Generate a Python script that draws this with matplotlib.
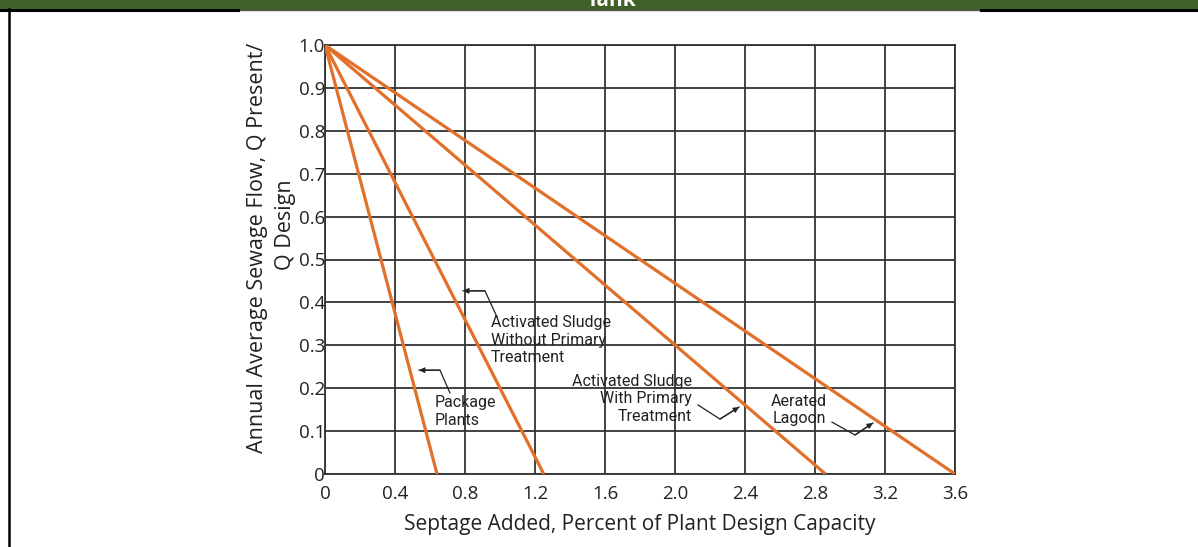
import matplotlib
matplotlib.use("Agg")
import matplotlib.pyplot as plt
from matplotlib import font_manager
from matplotlib.lines import Line2D
from matplotlib.patches import Rectangle

# ---- data ----
series_names = ["Package Plants",
                "Activated Sludge Without Primary Treatment",
                "Activated Sludge With Primary Treatment",
                "Aerated Lagoon"]
q_ratio = [1.0, 0.0]                     # Q present / Q design at both ends
septage_pct = [[0.0, 0.64],             # package plants
               [0.0, 1.25],             # activated sludge w/o primary
               [0.0, 2.86],             # activated sludge with primary
               [0.0, 3.60]]             # aerated lagoon
x_ticks = [0, 0.4, 0.8, 1.2, 1.6, 2.0, 2.4, 2.8, 3.2, 3.6]
x_tick_labels = ["0", "0.4", "0.8", "1.2", "1.6", "2.0", "2.4", "2.8", "3.2", "3.6"]
y_ticks = [0, 0.1, 0.2, 0.3, 0.4, 0.5, 0.6, 0.7, 0.8, 0.9, 1.0]
y_tick_labels = ["0", "0.1", "0.2", "0.3", "0.4", "0.5", "0.6", "0.7", "0.8", "0.9", "1.0"]

installed = {f.name for f in font_manager.fontManager.ttflist}
main_font = "Open Sans" if "Open Sans" in installed else "DejaVu Sans"
narrow_font = "Roboto" if "Roboto" in installed else main_font

orange = "#E0702A"
grid_col = "#333333"
green = "#3F6127"
txt_col = "#222222"

fig = plt.figure(figsize=(11.98, 5.47), dpi=100)
W, H = 1198, 547

# header bar (cut off at top, as in the source page)
fig.patches.append(Rectangle((0, 1 - 9 / H), 1, 9 / H, transform=fig.transFigure,
                             color=green, zorder=0))
fig.add_artist(Line2D([0, 1], [1 - 10 / H] * 2, color="#555555", lw=1.0))
fig.add_artist(Line2D([0, 238 / W], [1 - 10 / H] * 2, color="black", lw=2.2))
fig.add_artist(Line2D([981 / W, 1], [1 - 10 / H] * 2, color="black", lw=2.2))
fig.add_artist(Line2D([8.5 / W] * 2, [0, 1 - 9 / H], color="black", lw=1.8))
fig.text(611 / W, 1 - 6 / H, "Tank", color="white", fontsize=15, fontweight="bold",
         ha="center", va="baseline", family=main_font)

ax = fig.add_axes([325 / W, 1 - 474 / H, 630 / W, 429 / H])
ax.set_xlim(0, 3.6)
ax.set_ylim(0, 1.0)

for xs in septage_pct:
    ax.plot(xs, q_ratio, color=orange, lw=2.3, zorder=3, solid_capstyle="butt")

ax.set_xticks(x_ticks)
ax.set_xticklabels(x_tick_labels, family=main_font, fontsize=13.5, color=txt_col)
ax.set_yticks(y_ticks)
ax.set_yticklabels(y_tick_labels, family=main_font, fontsize=13.5, color=txt_col)
ax.tick_params(axis="both", length=0)
ax.tick_params(axis="x", pad=8)
ax.tick_params(axis="y", pad=0)
ax.grid(True, color=grid_col, lw=1.3, zorder=1)
ax.set_axisbelow(True)
for s in ax.spines.values():
    s.set_color(grid_col)
    s.set_linewidth(1.3)

ax.set_xlabel("Septage Added, Percent of Plant Design Capacity", family=main_font,
              fontsize=15, color=txt_col, labelpad=8)
fig.text(257 / W, 1 - 248 / H, "Annual Average Sewage Flow, Q Present/", rotation=90,
         ha="center", va="center", family=main_font, fontsize=15.5, color=txt_col)
fig.text(286 / W, 1 - 225 / H, "Q Design", rotation=90,
         ha="center", va="center", family=main_font, fontsize=15.5, color=txt_col)

# annotations with bent arrows
txt_kw = dict(family=narrow_font, fontsize=11.5, color=txt_col, linespacing=1.2, zorder=4)
arrow_kw = dict(color=txt_col, lw=0.9, zorder=4)


def bent_arrow(pts):
    xs = [p[0] for p in pts]
    ys = [p[1] for p in pts]
    ax.plot(xs, ys, **arrow_kw)
    ax.annotate("", xy=pts[-1], xytext=pts[-2],
                arrowprops=dict(arrowstyle="-|>", color=txt_col, lw=0.9,
                                mutation_scale=8, shrinkA=0, shrinkB=0), zorder=4)


ax.text(0.949, 0.312, "Activated Sludge\nWithout Primary\nTreatment", ha="left", va="center", **txt_kw)
bent_arrow([(0.983, 0.366), (0.914, 0.427), (0.789, 0.427)])

ax.text(0.629, 0.146, "Package\nPlants", ha="left", va="center", **txt_kw)
bent_arrow([(0.714, 0.189), (0.657, 0.242), (0.537, 0.242)])

ax.text(2.097, 0.175, "Activated Sludge\nWith Primary\nTreatment", ha="right", va="center",
        multialignment="right", **txt_kw)
bent_arrow([(2.131, 0.161), (2.257, 0.128), (2.366, 0.156)])

ax.text(2.709, 0.149, "Aerated\nLagoon", ha="center", va="center", **txt_kw)
bent_arrow([(2.897, 0.121), (3.029, 0.091), (3.131, 0.119)])

fig.savefig("out.png", dpi=100)
